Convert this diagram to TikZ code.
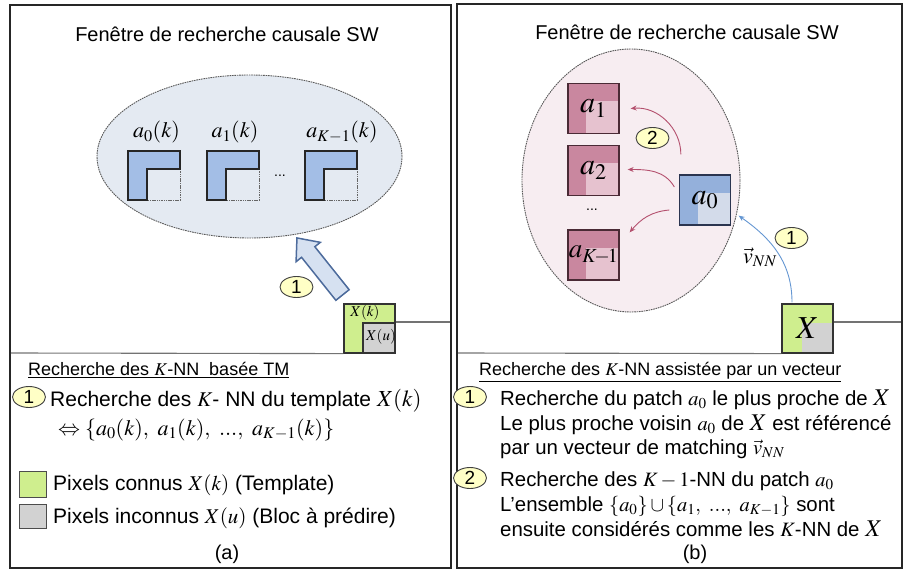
\documentclass[tikz,border=0pt]{standalone}
\usepackage{mathptmx}
\usepackage[no-math]{fontspec}
\setmainfont{Liberation Sans}
\usetikzlibrary{shapes.geometric,calc,arrows.meta}
\definecolor{ellB}{HTML}{E4EAF2}
\definecolor{ellP}{HTML}{F7EDF1}
\definecolor{blueL}{HTML}{A3BEE6}
\definecolor{greenK}{HTML}{CFEE8E}
\definecolor{greyU}{HTML}{D2D2D2}
\definecolor{numY}{HTML}{FFFFC6}
\definecolor{pinkD}{HTML}{C9879F}
\definecolor{pinkL}{HTML}{E6C2CF}
\definecolor{pinkB}{HTML}{4A2A35}
\definecolor{blueD}{HTML}{94B0DB}
\definecolor{blueLt}{HTML}{D3DBEA}
\definecolor{blueB}{HTML}{2B3550}
\definecolor{arrP}{HTML}{B4506E}
\definecolor{arrB}{HTML}{6496D2}
\definecolor{bigF}{HTML}{D6E1F1}
\definecolor{bigD}{HTML}{4D6B9C}
\newcommand\bigX{{\fontsize{24}{24}\selectfont$X$}}
\tikzset{
  panel/.style={draw=black!85, line width=1.8pt},
  ttl/.style={font=\fontsize{20}{24}\selectfont, inner sep=0, anchor=base},
  headtxt/.style={font=\fontsize{18}{22}\selectfont, inner sep=0, anchor=base west},
  bodytxt/.style={font=\fontsize{21}{25}\selectfont, inner sep=0, anchor=base west},
  rbodytxt/.style={font=\fontsize{20.4}{25}\selectfont, inner sep=0, anchor=base west},
  num/.style={ellipse, draw=black!75, fill=numY, line width=0.9pt, minimum width=33pt,
    minimum height=21pt, inner sep=0, font=\fontsize{19}{19}\selectfont},
  dashell/.style={ellipse, draw=black!65, dash pattern=on 1.6pt off 0.8pt, line width=0.9pt, inner sep=0},
  sepline/.style={draw=black!55, line width=1.1pt},
  lab/.style={font=\fontsize{22}{22}\selectfont, inner sep=0, anchor=base},
  pinksq/.style={draw=pinkB, line width=1.3pt, fill=pinkD, minimum width=51pt, minimum height=50pt,
    inner sep=0, font=\fontsize{30}{30}\selectfont,
    path picture={\fill[pinkL] ($(path picture bounding box.north west)!0.36!(path picture bounding box.south east)$) rectangle (path picture bounding box.south east);}},
  bluesq/.style={draw=blueB, line width=1.3pt, fill=blueD, minimum width=51pt, minimum height=50pt,
    inner sep=0, font=\fontsize{30}{30}\selectfont,
    path picture={\fill[blueLt] ($(path picture bounding box.north west)!0.36!(path picture bounding box.south east)$) rectangle (path picture bounding box.south east);}},
  xsq/.style={draw=black!80, line width=1.2pt, fill=greenK, minimum width=51pt, minimum height=49pt, inner sep=0,
    font=\fontsize{32}{32}\selectfont,
    path picture={\fill[greyU] ($(path picture bounding box.north west)!0.39!(path picture bounding box.south east)$) rectangle (path picture bounding box.south east);}},
  parr/.style={draw=arrP, line width=0.9pt, -{Stealth[length=6pt,width=5pt]}},
  barr/.style={draw=arrB, line width=0.9pt, -{Stealth[length=6pt,width=5pt]}},
  bigarrow/.style={draw=bigD, fill=bigF, line width=1.5pt, line join=miter},
  lblock/.style={fill=blueL},
  lblockline/.style={draw=black!85, line width=1.3pt},
  lblockdash/.style={draw=black!60, line width=0.8pt, dash pattern=on 1.5pt off 0.8pt},
}
\begin{document}
\begin{tikzpicture}[x=1pt,y=-1pt]
\useasboundingbox (0,0) rectangle (905,572);
% panels
\draw[panel] (10,5) rectangle (451,568);
\draw[panel] (457,4) rectangle (902,568);

% ---------------- left panel ----------------
\node[ttl] (tL) at (227,42) {Fenêtre de recherche causale SW};
\node[dashell, fill=ellB, minimum width=305pt, minimum height=163pt] (ellL) at (249.5,156.5) {};
\foreach \x in {128,207,305} {
  \fill[lblock] (\x,151) -- (\x+52,151) -- (\x+52,169) -- (\x+19,169) -- (\x+19,200) -- (\x,200) -- cycle;
  \draw[lblockdash] (\x+52,169) -- (\x+52,200) -- (\x+19,200);
  \draw[lblockline] (\x+19,200) -- (\x,200) -- (\x,151) -- (\x+52,151) -- (\x+52,169) -- (\x+19,169) -- cycle;
}
\node[lab] (la0) at (156.5,138) {$a_0(k)$};
\node[lab] (la1) at (235,138) {$a_1(k)$};
\node[lab] (laK) at (342,138) {$a_{K-1}(k)$};
\node[font=\fontsize{14}{14}\selectfont, inner sep=0] (dL) at (280,176) {...};

% big arrow
\begin{scope}[shift={(342.5,295)}, rotate=128.6]
\draw[bigarrow] (0,8.5) -- (55,8.5) -- (55,15.5) -- (73,0) -- (55,-15.5) -- (55,-8.5) -- (0,-8.5) -- cycle;
\end{scope}
\node[num] (nL1) at (296.5,287) {1};

% X(k) block
\node[draw=black!80, line width=1.2pt, fill=greenK, minimum width=51pt, minimum height=49pt, inner sep=0] (Xk) at (369.5,328.5) {};
\node[draw=black!80, line width=1.2pt, fill=greyU, minimum width=32pt, minimum height=30pt, inner sep=0] (Xu) at (379,338) {};
\node[font=\fontsize{15}{15}\selectfont, inner sep=0] (lXk) at (365,313) {$X(k)$};
\node[font=\fontsize{15}{15}\selectfont, inner sep=0] (lXu) at (381,337) {$X(u)$};
\coordinate (lR) at (450,322);
\coordinate (lL) at (11,353);
\draw[sepline] (Xk.east |- lR) -- (lR);
\draw[sepline] (lL) -- (Xk.south west);

% left text
\node[headtxt] (hL) at (28,375) {\underline{Recherche des $K$-NN\ \ basée TM}};
\node[num] (cL1) at (29,397) {1};
\node[bodytxt] (tL1) at (50,406) {Recherche des $K$-\ NN du template {\fontsize{23}{23}\selectfont$X(k)$}};
\node[bodytxt, font=\fontsize{22}{25}\selectfont] (tL2) at (58,435) {$\Leftrightarrow \{a_0(k),\ a_1(k),\ ...,\ a_{K-1}(k)\}$};
\node[draw=black!70, line width=1pt, fill=greenK, minimum width=27pt, minimum height=26pt, inner sep=0] (legG) at (32.5,484) {};
\node[draw=black!70, line width=1pt, fill=greyU, minimum width=27pt, minimum height=24pt, inner sep=0] (legU) at (32.5,516) {};
\node[bodytxt] (tLg) at (53,490) {Pixels connus $X(k)$ (Template)};
\node[bodytxt] (tLu) at (53,523) {Pixels inconnus $X(u)$ (Bloc à prédire)};
\node[ttl] (capA) at (227,559) {(a)};

% ---------------- right panel ----------------
\node[ttl] (tR) at (687,40) {Fenêtre de recherche causale SW};
\node[dashell, fill=ellP, minimum width=218pt, minimum height=263pt] (ellR) at (631,180.5) {};
\node[pinksq] (a1) at (593.5,108.5) {$a_1$};
\node[pinksq] (a2) at (593.5,170.5) {$a_2$};
\node[pinksq, font=\fontsize{27}{27}\selectfont] (aK) at (593.5,255) {$a_{K\!-\!1}$};
\node[font=\fontsize{14}{14}\selectfont, inner sep=0] (dR) at (592,210) {...};
\node[bluesq] (a0) at (705,200) {$a_0$};

\draw[parr] ([xshift=2pt,yshift=20pt]a0.north west) to[out=90,in=5] ([xshift=11pt]a1.east);
\draw[parr] ([xshift=-4.5pt,yshift=13pt]a0.west) to[out=120,in=0] ([xshift=8pt,yshift=1pt]a2.east);
\draw[parr] ([xshift=-9.5pt,yshift=-10pt]a0.west) to[out=185,in=50] ([xshift=10pt,yshift=-3pt]aK.north east);
\node[num] (nR2) at (652.5,138) {2};

\node[xsq] (Xb) at (807.5,328.5) {$X$};
\draw[barr] ([xshift=-15.5pt,yshift=1pt]Xb.north) to[out=90,in=-35] ([xshift=7.5pt,yshift=10pt]a0.south east);
\node[num] (nR1) at (791.5,238) {1};
\node[font=\fontsize{22}{22}\selectfont, inner sep=0] (vnn) at (760,257) {$\vec{v}_{NN}$};
\coordinate (rR) at (901,322);
\coordinate (rL) at (458,353);
\draw[sepline] (Xb.east |- rR) -- (rR);
\draw[sepline] (rL) -- (Xb.south west);

% right text
\node[headtxt] (hR) at (479,375) {\underline{Recherche des $K$-NN assistée par un vecteur}};
\node[num] (cR1) at (470,397) {1};
\node[rbodytxt] (tR1) at (500,405) {Recherche du patch $a_0$ le plus proche de \bigX};
\node[rbodytxt] (tR2) at (500,430) {Le plus proche voisin $a_0$ de \bigX\ est référencé};
\node[rbodytxt] (tR3) at (500,454) {par un vecteur de matching $\vec{v}_{NN}$};
\node[num] (cR2) at (470,478) {2};
\node[rbodytxt] (tR4) at (500,486) {Recherche des $K-1$-NN du patch $a_0$};
\node[rbodytxt] (tR5) at (500,511) {L'ensemble $\{a_0\}\cup\{a_1,\ ...,\ a_{K-1}\}$ sont};
\node[rbodytxt] (tR6) at (500,536) {ensuite considérés comme les $K$-NN de \bigX};
\node[ttl] (capB) at (695,559) {(b)};
\end{tikzpicture}
\end{document}
